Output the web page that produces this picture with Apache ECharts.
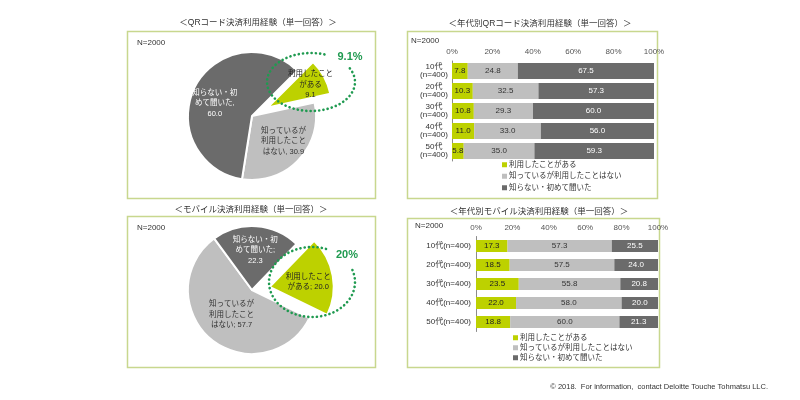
<!DOCTYPE html>
<html><head><meta charset="utf-8">
<script src="https://cdn.jsdelivr.net/npm/echarts@6/dist/echarts.min.js"></script>
<style>html,body{margin:0;padding:0;background:#fff}#c{width:800px;height:400px}</style>
</head><body><div id="c"></div>
<script>
// ---------- data ----------
const seriesNames = ['利用したことがある', '知っているが利用したことはない', '知らない・初めて聞いた'];
const qrPieValues = [9.1, 30.9, 60.0];
const qrPieText = ['利用したこと\nがある\n', '知っているが\n利用したこと\nはない, ', '知らない・初\nめて聞いた,\n'];
const mobPieValues = [20.0, 57.7, 22.3];
const mobPieText = ['利用したこと\nがある; ', '知っているが\n利用したこと\nはない; ', '知らない・初\nめて聞いた;\n'];
const qrHighlight = '9.1%';
const mobHighlight = '20%';
const sampleNote = 'N=2000';
const ageGroups = ['10代', '20代', '30代', '40代', '50代'];
const groupN = '(n=400)';
const qrUsed = [7.8, 10.3, 10.8, 11.0, 5.8];
const qrKnown = [24.8, 32.5, 29.3, 33.0, 35.0];
const qrUnknown = [67.5, 57.3, 60.0, 56.0, 59.3];
const mobUsed = [17.3, 18.5, 23.5, 22.0, 18.8];
const mobKnown = [57.3, 57.5, 55.8, 58.0, 60.0];
const mobUnknown = [25.5, 24.0, 20.8, 20.0, 21.3];
const titles = ['＜QRコード決済利用経験（単一回答）＞', '＜年代別QRコード決済利用経験（単一回答）＞',
                '＜モバイル決済利用経験（単一回答）＞', '＜年代別モバイル決済利用経験（単一回答）＞'];
const footer = '© 2018.  For information,  contact Deloitte Touche Tohmatsu LLC.';

// ---------- styles ----------
const COLORS = ['#bdd100', '#bfbfbf', '#6b6b6b'];
const LABEL_COLORS = ['#222', '#333', '#fff'];
const FRAME = '#c8d78e';
const DOT = '#1f9a50';
const FONT = '"Liberation Sans", "Noto Sans CJK JP", sans-serif';
const qrLabelShift = [[12, -6], [6, 1], [-6, 3]];
const mobLabelShift = [[4, 1], [2, -2], [1, -5]];

// decorative dotted ellipse outline (open arc leaving room for the % label)
function ellipsePts(cx, cy, rx, ry, t0, t1) {
  const pts = [];
  for (let t = t0; t <= t1 + 1e-6; t += 3) {
    const a = t * Math.PI / 180;
    pts.push([cx + rx * Math.cos(a), cy + ry * Math.sin(a)]);
  }
  return pts;
}

const chart = echarts.init(document.getElementById('c'), null, {renderer: 'canvas'});

function pieSeries(values, texts, center, startAngle, shift) {
  return {
    type: 'pie', center: center, radius: 64, startAngle: startAngle, clockwise: true,
    selectedMode: 'single', selectedOffset: 18, silent: true, animation: false,
    emphasis: {disabled: true},
    itemStyle: {borderColor: '#fff', borderWidth: 2},
    label: {position: 'inside', fontSize: 7.5, lineHeight: 10.5, fontFamily: FONT, align: 'center'},
    labelLine: {show: false},
    labelLayout: function (p) { return {dx: shift[p.dataIndex][0], dy: shift[p.dataIndex][1]}; },
    data: values.map((v, i) => ({
      name: seriesNames[i], value: v, selected: i === 0,
      itemStyle: {color: COLORS[i]},
      label: {color: LABEL_COLORS[i], formatter: texts[i] + v.toFixed(1)}
    }))
  };
}

function barSeries(arrs, xi, yi, bw) {
  return arrs.map((arr, i) => ({
    name: seriesNames[i], type: 'bar', stack: 's' + xi, xAxisIndex: xi, yAxisIndex: yi,
    barWidth: bw, silent: true, animation: false,
    itemStyle: {color: COLORS[i]},
    label: {show: true, position: 'inside', color: LABEL_COLORS[i], fontSize: 8, fontFamily: FONT,
            formatter: p => p.value.toFixed(1)},
    data: arr
  }));
}

const xAxisCommon = {
  type: 'value', position: 'top', min: 0, max: 100, interval: 20,
  axisLine: {show: false}, axisTick: {show: false}, splitLine: {show: false},
  axisLabel: {formatter: '{value}%', fontSize: 8, color: '#555', fontFamily: FONT, margin: 5}
};

function txt(x, y, text, font, extra) {
  return {type: 'text', x: x, y: y, z: 50,
    style: Object.assign({text: text, font: font, fill: '#333', textVerticalAlign: 'middle'}, extra || {})};
}

const option = {
  animation: false,
  textStyle: {fontFamily: FONT},
  grid: [
    {left: 452, top: 61, width: 202, height: 100},
    {left: 476, top: 236.5, width: 182, height: 95}
  ],
  xAxis: [
    Object.assign({}, xAxisCommon, {gridIndex: 0}),
    Object.assign({}, xAxisCommon, {gridIndex: 1})
  ],
  yAxis: [
    {type: 'category', gridIndex: 0, inverse: true, data: ageGroups.map(a => a + '\n' + groupN),
     axisLine: {lineStyle: {color: '#8c8c8c'}}, axisTick: {length: 3, lineStyle: {color: '#8c8c8c'}},
     axisLabel: {fontSize: 8, color: '#333', align: 'center', margin: 18, lineHeight: 8, fontFamily: FONT}},
    {type: 'category', gridIndex: 1, inverse: true, data: ageGroups.map(a => a + groupN),
     axisLine: {lineStyle: {color: '#8c8c8c'}}, axisTick: {length: 3, lineStyle: {color: '#8c8c8c'}},
     axisLabel: {fontSize: 8, color: '#333', margin: 5, fontFamily: FONT}}
  ],
  legend: [
    {orient: 'vertical', left: 497, top: 156, itemWidth: 5, itemHeight: 5, itemGap: 4, icon: 'rect',
     data: seriesNames, textStyle: {fontSize: 7.5, color: '#333', fontFamily: FONT, padding: [0, 0, 0, -3]}, selectedMode: false},
    {orient: 'vertical', left: 508, top: 329, itemWidth: 5, itemHeight: 5, itemGap: 2.5, icon: 'rect',
     data: seriesNames, textStyle: {fontSize: 7.5, color: '#333', fontFamily: FONT, padding: [0, 0, 0, -3]}, selectedMode: false}
  ],
  series: [
    pieSeries(qrPieValues, qrPieText, [252, 116], 45, qrLabelShift),
    pieSeries(mobPieValues, mobPieText, [252, 290], 46, mobLabelShift)
  ].concat(barSeries([qrUsed, qrKnown, qrUnknown], 0, 0, 16))
   .concat(barSeries([mobUsed, mobKnown, mobUnknown], 1, 1, 12)),
  graphic: [
    {type: 'rect', z: -1, shape: {x: 127.5, y: 31.5, width: 248, height: 167}, style: {fill: null, stroke: FRAME, lineWidth: 1.5}},
    {type: 'rect', z: -1, shape: {x: 407.5, y: 31.5, width: 250, height: 167}, style: {fill: null, stroke: FRAME, lineWidth: 1.5}},
    {type: 'rect', z: -1, shape: {x: 127.5, y: 216.5, width: 248, height: 151}, style: {fill: null, stroke: FRAME, lineWidth: 1.5}},
    {type: 'rect', z: -1, shape: {x: 407.5, y: 218.5, width: 252, height: 149}, style: {fill: null, stroke: FRAME, lineWidth: 1.5}},
    txt(258, 23, titles[0], '8.5px ' + FONT, {textAlign: 'center'}),
    txt(540, 24, titles[1], '8.5px ' + FONT, {textAlign: 'center'}),
    txt(251, 210, titles[2], '8.5px ' + FONT, {textAlign: 'center'}),
    txt(539, 212, titles[3], '8.5px ' + FONT, {textAlign: 'center'}),
    txt(137, 43, sampleNote, '8px ' + FONT),
    txt(411, 41, sampleNote, '8px ' + FONT),
    txt(137, 228, sampleNote, '8px ' + FONT),
    txt(415, 226, sampleNote, '8px ' + FONT),
    {type: 'polyline', z: 100, shape: {points: ellipsePts(311, 82, 44, 29, -28, 295)},
     style: {fill: null, stroke: DOT, lineWidth: 2.6, lineDash: [0.1, 4.2], lineCap: 'round'}},
    {type: 'polyline', z: 100, shape: {points: ellipsePts(312, 282, 43, 35, -20, 290)},
     style: {fill: null, stroke: DOT, lineWidth: 2.6, lineDash: [0.1, 4.2], lineCap: 'round'}},
    txt(350, 57, qrHighlight, 'bold 11px ' + FONT, {fill: DOT, textAlign: 'center'}),
    txt(347, 255, mobHighlight, 'bold 11px ' + FONT, {fill: DOT, textAlign: 'center'}),
    txt(768, 387, footer, '7.5px ' + FONT, {textAlign: 'right'})
  ]
};
chart.setOption(option);
</script>
</body></html>
